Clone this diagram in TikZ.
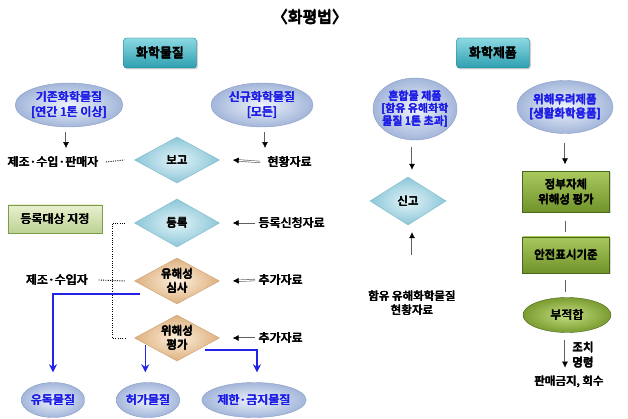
\documentclass[tikz,border=0pt]{standalone}
\usepackage{fontspec}
\setmainfont{Noto Sans CJK KR}
\newfontfamily\krb{Noto Sans CJK KR}
\newcommand\bt[1]{\leavevmode\rlap{#1}\rlap{\kern0.8pt#1}\rlap{\kern0.4pt\raisebox{0.35pt}{#1}}\kern0.4pt\raisebox{-0.3pt}{#1}\kern0.4pt}
\usetikzlibrary{shapes.geometric,arrows.meta,calc,shadows}
\definecolor{catT}{HTML}{8CD9E2}
\definecolor{catB}{HTML}{2E9FB0}
\definecolor{catD}{HTML}{1E7785}
\definecolor{ellI}{HTML}{EEF3FB}
\definecolor{ellO}{HTML}{A3B6DA}
\definecolor{ellD}{HTML}{8A9CC4}
\definecolor{ellT}{HTML}{1C1CE6}
\definecolor{dbI}{HTML}{E2F4F8}
\definecolor{dbO}{HTML}{8CC6D8}
\definecolor{dbD}{HTML}{7DB6C8}
\definecolor{dtI}{HTML}{FDF0DD}
\definecolor{dtO}{HTML}{DDB07E}
\definecolor{dtD}{HTML}{CDA070}
\definecolor{gT}{HTML}{A9C95E}
\definecolor{gB}{HTML}{6F922A}
\definecolor{gD}{HTML}{4A661A}
\definecolor{lgT}{HTML}{E8F0CF}
\definecolor{lgB}{HTML}{BCD293}
\definecolor{lgD}{HTML}{7F9A48}
\definecolor{gnI}{HTML}{C4DE82}
\definecolor{gnO}{HTML}{7A9C30}
\definecolor{blueL}{HTML}{2222E8}
\definecolor{arrG}{HTML}{606060}
\begin{document}
\begin{tikzpicture}[x=1pt,y=-1pt,
  lab/.style={font=\krb\fontsize{12}{15}\selectfont, align=center, inner sep=0pt},
  cat/.style={rectangle, rounded corners=3pt, draw=catD, top color=catT, bottom color=catB,
    minimum width=73, minimum height=30, inner sep=0pt, font=\krb\fontsize{13}{15}\selectfont,
    drop shadow={opacity=0.35, shadow xshift=1.5pt, shadow yshift=-1.5pt}},
  ell/.style={ellipse, draw=ellD, inner color=ellI, outer color=ellO, text=ellT, inner sep=0pt,
    align=center, font=\krb\fontsize{12}{15}\selectfont},
  dia/.style={diamond, aspect=2, minimum width=85, minimum height=46, inner sep=-2pt, align=center,
    font=\krb\fontsize{11.5}{14}\selectfont},
  dblue/.style={dia, draw=dbD, inner color=dbI, outer color=dbO},
  dtan/.style={dia, draw=dtD, inner color=dtI, outer color=dtO},
  gbox/.style={rectangle, draw=gD, top color=gT, bottom color=gB, minimum width=87, inner sep=0pt,
    align=center, font=\krb\fontsize{11.5}{15}\selectfont,
    drop shadow={opacity=0.3, shadow xshift=1pt, shadow yshift=-1pt}},
  lgbox/.style={rectangle, draw=lgD, top color=lgT, bottom color=lgB, minimum width=94, minimum height=28,
    inner sep=0pt, font=\krb\fontsize{12}{15}\selectfont,
    drop shadow={opacity=0.3, shadow xshift=1pt, shadow yshift=-1pt}},
  garrow/.style={draw=arrG, double=white, double distance=1pt, line width=0.6pt,
    -{Latex[length=6pt,width=6pt,black]}},
  gline/.style={draw=arrG, line width=1pt},
  dotline/.style={draw=black, line width=0.9pt, dash pattern=on 1pt off 1.3pt},
  barrow/.style={draw=blueL, line width=1.3pt, -{Stealth[length=8pt,width=8pt]}}
]
\useasboundingbox (0,0) rectangle (628,419);

% title and categories
\node[lab, font=\krb\fontsize{16}{18}\selectfont] (title) at (310,17) {\bt{〈화평법〉}};
\node[cat] (c1) at (160,53) {\bt{화학물질}};
\node[cat] (c2) at (493,53) {\bt{화학제품}};

% left column: chemical substances
\node[ell, minimum width=102, minimum height=44] (e1) at (69,105) {\bt{기존화학물질}\\\bt{[연간 1톤 이상]}};
\node[ell, minimum width=102, minimum height=44] (e2) at (262,105) {\bt{신규화학물질}\\\bt{[모든]}};

\node[lab] (t1) at (53,162) {\bt{제조·수입·판매자}};
\node[dblue] (d1) at (177,160) {\bt{보고}};
\node[lab, anchor=west] (t2) at (267,162) {\bt{현황자료}};

\node[lgbox] (r1) at (55,219) {\bt{등록대상 지정}};
\node[dblue, minimum height=48] (d2) at (177,223) {\bt{등록}};
\node[lab, anchor=west] (t3) at (258,223) {\bt{등록신청자료}};

\node[lab] (t4) at (57,280) {\bt{제조·수입자}};
\node[dtan] (d3) at (177,281) {\bt{유해성}\\\bt{심사}};
\node[lab, anchor=west] (t5) at (258,280) {\bt{추가자료}};

\node[dtan] (d4) at (177,338) {\bt{위해성}\\\bt{평가}};
\node[lab, anchor=west] (t6) at (258,338) {\bt{추가자료}};

\node[ell, minimum width=60, minimum height=35] (e3) at (53,400) {\bt{유독물질}};
\node[ell, minimum width=60, minimum height=35] (e4) at (148,400) {\bt{허가물질}};
\node[ell, minimum width=85, minimum height=35] (e5) at (254,400) {\bt{제한·금지물질}};

% right column: chemical products
\node[ell, minimum width=84, minimum height=62, inner xsep=-7pt, font=\krb\fontsize{11}{12.5}\selectfont]
  (e6) at (415,109) {\bt{혼합물 제품}\\\bt{[함유 유해화학}\\\bt{물질 1톤 초과]}};
\node[ell, minimum width=96, minimum height=53, inner xsep=-3pt, font=\krb\fontsize{11.5}{14}\selectfont]
  (e7) at (565,107) {\bt{위해우려제품}\\\bt{[생활화학용품]}};
\node[dblue, minimum width=76, minimum height=48] (d5) at (408,201) {\bt{신고}};
\node[lab, font=\krb\fontsize{11.5}{14}\selectfont] (t7) at (412,303) {\bt{함유 유해화학물질}\\\bt{현황자료}};

\node[gbox, minimum height=41] (g1) at (566,192) {\bt{정부자체}\\\bt{위해성 평가}};
\node[gbox, minimum height=36] (g2) at (566,255) {\bt{안전표시기준}};
\node[ellipse, draw=gD, inner color=gnI, outer color=gnO, minimum width=88, minimum height=35,
  inner sep=0pt, font=\krb\fontsize{12}{15}\selectfont] (e8) at (567,315) {\bt{부적합}};
\node[lab, font=\krb\fontsize{11.5}{15}\selectfont] (t8) at (569,382) {\bt{판매금지, 회수}};
\node[lab, font=\krb\fontsize{11.5}{15}\selectfont] (t9) at (583,355) {\bt{조치}\\\bt{명령}};

% gray arrows (left)
\draw[garrow] ($(e1.south)+(-3,5)$) -- ($(e1.south |- t1.north)+(-3,-8)$);
\draw[garrow] ($(e2.south)+(3,5)$) -- ($(e2.south |- t2.north)+(3,-8)$);
\draw[garrow] ($(t2.west)+(-7,0)$) -- ($(d1.east)+(13,0)$);
\draw[garrow] ($(t3.west)+(-3,0)$) -- ($(d2.east)+(13,0)$);
\draw[garrow] ($(t5.west)+(-3,0)$) -- ($(d3.east)+(13,0)$);
\draw[garrow] ($(t6.west)+(-3,0)$) -- ($(d4.east)+(13,0)$);

% dotted connections
\draw[dotline] ($(t1.east)+(7,0)$) -- ($(d1.west)+(-10,0)$);
\draw[dotline] ($(d2.west)+(-9,0)$) -- ++(-13,0) |- ($(d4.west)+(-9,0)$);
\draw[dotline] ($(t4.east)+(10,0)$) -- ($(d3.west)+(-9,0)$);

% blue outcome arrows
\draw[barrow] ($(d3.west)+(6,13)$) -| ($(e3.north)+(0,-10)$);
\draw[barrow] ($(d4.west)+(11,7)$) -- ($(d4.west |- e4.north)+(11,-10)$);
\draw[barrow] ($(d4.east)+(-15,12)$) -| ($(e5.north)+(3,-10)$);

% right side connectors
\draw[garrow] ($(e6.south)+(-3,7)$) -- ($(e6.south |- d5.north)+(-3,-7)$);
\draw[garrow] ($(t7.north)+(0,-35)$) -- ($(t7.north |- d5.south)+(0,7)$);
\draw[garrow] ($(e7.south)+(0,9)$) -- ($(e7.south |- g1.north)+(0,-7)$);
\draw[gline] ($(g1.south)+(-1,8)$) -- ($(g1.south |- g2.north)+(-1,-5)$);
\draw[gline] ($(g2.south)+(-1,7)$) -- ($(g2.south |- e8.north)+(-1,-5)$);
\draw[garrow] ($(e8.south)+(-2,7)$) -- ($(e8.south |- t8.north)+(-2,-8)$);
\end{tikzpicture}
\end{document}
